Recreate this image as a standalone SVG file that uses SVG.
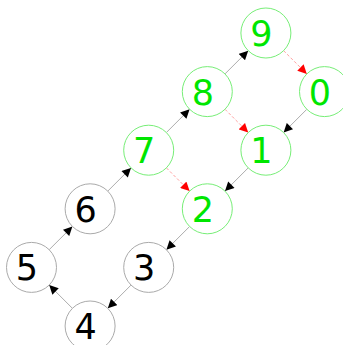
<svg xmlns="http://www.w3.org/2000/svg" width="343" height="345" viewBox="0 0 343 345">
<style>
.n circle{fill:#fff;stroke:#aaa;stroke-width:1}
.g circle{stroke:#7e7}
.n text{font-family:"DejaVu Sans",sans-serif;font-size:35px;text-anchor:middle;fill:#000}
.g text{fill:#00e600}
.e{stroke:#888;stroke-width:0.7;fill:none}
.r{stroke:#f88;stroke-width:0.8;stroke-dasharray:3,2;fill:none}
</style>
<defs>
<marker id="ab" viewBox="0 0 10 10" refX="10" refY="5" markerWidth="10" markerHeight="9" markerUnits="userSpaceOnUse" orient="auto"><path d="M0,0L10,5L0,10z" fill="#000"/></marker>
<marker id="ar" viewBox="0 0 10 10" refX="10" refY="5" markerWidth="10" markerHeight="9" markerUnits="userSpaceOnUse" orient="auto"><path d="M0,0L10,5L0,10z" fill="#f00"/></marker>
</defs>
<g id="edges">
<line class="r" x1="283.6" y1="50.7" x2="306.8" y2="73.9" marker-end="url(#ar)"/>
<line class="e" x1="306.8" y1="109.3" x2="283.6" y2="132.5" marker-end="url(#ab)"/>
<line class="e" x1="225" y1="73.9" x2="248.2" y2="50.7" marker-end="url(#ab)"/>
<line class="r" x1="225" y1="109.3" x2="248.2" y2="132.5" marker-end="url(#ar)"/>
<line class="e" x1="166.4" y1="132.5" x2="189.6" y2="109.3" marker-end="url(#ab)"/>
<line class="r" x1="166.4" y1="167.9" x2="189.6" y2="191.1" marker-end="url(#ar)"/>
<line class="e" x1="248.2" y1="167.9" x2="225" y2="191.1" marker-end="url(#ab)"/>
<line class="e" x1="107.8" y1="191.1" x2="131" y2="167.9" marker-end="url(#ab)"/>
<line class="e" x1="189.6" y1="226.5" x2="166.4" y2="249.7" marker-end="url(#ab)"/>
<line class="e" x1="131" y1="285.1" x2="107.8" y2="308.3" marker-end="url(#ab)"/>
<line class="e" x1="72.4" y1="308.3" x2="49.2" y2="285.1" marker-end="url(#ab)"/>
<line class="e" x1="49.2" y1="249.7" x2="72.4" y2="226.5" marker-end="url(#ab)"/>
</g>
<g id="n9" class="n g"><circle cx="265.9" cy="33" r="25"/><text x="261.4" y="46">9</text></g>
<g id="n0" class="n g"><circle cx="324.5" cy="91.6" r="25"/><text x="320" y="104.6">0</text></g>
<g id="n8" class="n g"><circle cx="207.3" cy="91.6" r="25"/><text x="202.8" y="104.6">8</text></g>
<g id="n1" class="n g"><circle cx="265.9" cy="150.2" r="25"/><text x="261.4" y="163.2">1</text></g>
<g id="n7" class="n g"><circle cx="148.7" cy="150.2" r="25"/><text x="144.2" y="163.2">7</text></g>
<g id="n2" class="n g"><circle cx="207.3" cy="208.8" r="25"/><text x="202.8" y="221.8">2</text></g>
<g id="n6" class="n"><circle cx="90.1" cy="208.8" r="25"/><text x="85.6" y="221.8">6</text></g>
<g id="n3" class="n"><circle cx="148.7" cy="267.4" r="25"/><text x="144.2" y="280.4">3</text></g>
<g id="n5" class="n"><circle cx="31.5" cy="267.4" r="25"/><text x="27" y="280.4">5</text></g>
<g id="n4" class="n"><circle cx="90.1" cy="326" r="25"/><text x="85.6" y="339">4</text></g>
</svg>
